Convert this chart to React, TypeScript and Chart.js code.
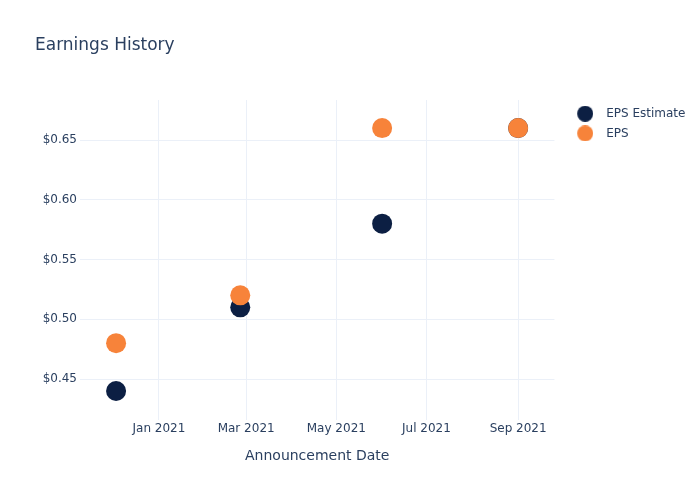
import React, { useEffect, useRef } from "react";
import { Chart, registerables } from "chart.js";

Chart.register(...registerables);

// ---- data ----
const announcementDates = ["2020-12-03", "2021-02-25", "2021-06-01", "2021-09-01"];
const epsEstimate = [0.44, 0.51, 0.58, 0.66];
const epsActual = [0.48, 0.52, 0.66, 0.66];
const seriesNames = ["EPS Estimate", "EPS"];
const seriesColors = ["#0c1f43", "#f7833a"];
const xTickDates = ["2021-01-01", "2021-03-01", "2021-05-01", "2021-07-01", "2021-09-01"];
const xTickLabels = ["Jan 2021", "Mar 2021", "May 2021", "Jul 2021", "Sep 2021"];
const yTicks = [0.45, 0.5, 0.55, 0.6, 0.65];
const xRange = ["2020-11-08T14:00:00Z", "2021-09-25T14:00:00Z"];
const yRange = [0.4157, 0.6835];

const TEXT = "#2a3f5f";
const GRID = "#ebf0f8";
const FONT = "'DejaVu Sans', Verdana, sans-serif";

function legendDot(color: string) {
  const c = document.createElement("canvas");
  c.width = 24;
  c.height = 16;
  const g = c.getContext("2d")!;
  g.fillStyle = color;
  g.beginPath();
  g.arc(16, 8, 8, 0, Math.PI * 2);
  g.fill();
  return c;
}

export default function App() {
  const ref = useRef<HTMLCanvasElement | null>(null);

  useEffect(() => {
    if (!ref.current) return;
    const xTickValues = xTickDates.map((d) => Date.parse(d));
    const toPoints = (vals: number[]) =>
      announcementDates.map((d, i) => ({ x: Date.parse(d), y: vals[i] }));
    const seriesValues = [epsEstimate, epsActual];
    const dots = seriesColors.map((c) => legendDot(c));

    const chart = new Chart(ref.current, {
      type: "scatter",
      data: {
        datasets: seriesNames.map((name, i) => ({
          label: name,
          data: toPoints(seriesValues[i]),
          backgroundColor: seriesColors[i],
          borderColor: seriesColors[i],
          borderWidth: 0,
          pointRadius: 10,
          pointHoverRadius: 10,
          order: i === 0 ? 1 : 0,
        })),
      },
      options: {
        animation: false,
        responsive: false,
        devicePixelRatio: 1,
        layout: { padding: { left: 35, right: 4.6, top: 0, bottom: 0 } },
        font: { family: FONT },
        plugins: {
          tooltip: { enabled: false },
          title: {
            display: true,
            text: "Earnings History",
            align: "start",
            color: TEXT,
            font: { family: FONT, size: 17, weight: "normal" },
            padding: { top: 35.8, bottom: 43.8 },
          },
          legend: {
            display: true,
            position: "right",
            align: "start",
            fullSize: false,
            labels: {
              usePointStyle: true,
              pointStyleWidth: 38,
              padding: 7.7,
              color: TEXT,
              font: { family: FONT, size: 12 },
              sort: (a: any, b: any) => a.datasetIndex - b.datasetIndex,
              generateLabels: (ch: any) => {
                const items = (Chart.defaults.plugins.legend.labels as any).generateLabels(ch);
                return items.map((it: any) => ({ ...it, pointStyle: dots[it.datasetIndex] }));
              },
            },
          },
        },
        scales: {
          x: {
            type: "linear",
            min: Date.parse(xRange[0]),
            max: Date.parse(xRange[1]),
            afterBuildTicks: (s: any) => {
              s.ticks = xTickValues.map((v) => ({ value: v }));
            },
            afterFit: (s: any) => {
              s.height = 80;
            },
            ticks: {
              color: TEXT,
              font: { family: FONT, size: 12 },
              padding: 2,
              maxRotation: 0,
              autoSkip: false,
              callback: (v: any) => {
                const idx = xTickValues.indexOf(Number(v));
                return idx >= 0 ? xTickLabels[idx] : "";
              },
            },
            grid: { color: GRID, lineWidth: 1, drawTicks: false },
            border: { display: false },
            title: {
              display: true,
              text: "Announcement Date",
              color: TEXT,
              font: { family: FONT, size: 14 },
              padding: { top: 0, bottom: 35.6 },
            },
          },
          y: {
            type: "linear",
            min: yRange[0],
            max: yRange[1],
            afterBuildTicks: (s: any) => {
              s.ticks = yTicks.map((v) => ({ value: v }));
            },
            afterFit: (s: any) => {
              s.width = 45;
            },
            ticks: {
              color: TEXT,
              font: { family: FONT, size: 12 },
              padding: 3,
              callback: (v: any) => "$" + Number(v).toFixed(2),
            },
            grid: { color: GRID, lineWidth: 1, drawTicks: false },
            border: { display: false },
          },
        },
      } as any,
    });
    return () => chart.destroy();
  }, []);

  return (
    <div style={{ position: "absolute", left: 0, top: 0, width: 700, height: 500, background: "#fff" }}>
      <canvas ref={ref} width={700} height={500} style={{ display: "block", width: 700, height: 500 }} />
    </div>
  );
}
